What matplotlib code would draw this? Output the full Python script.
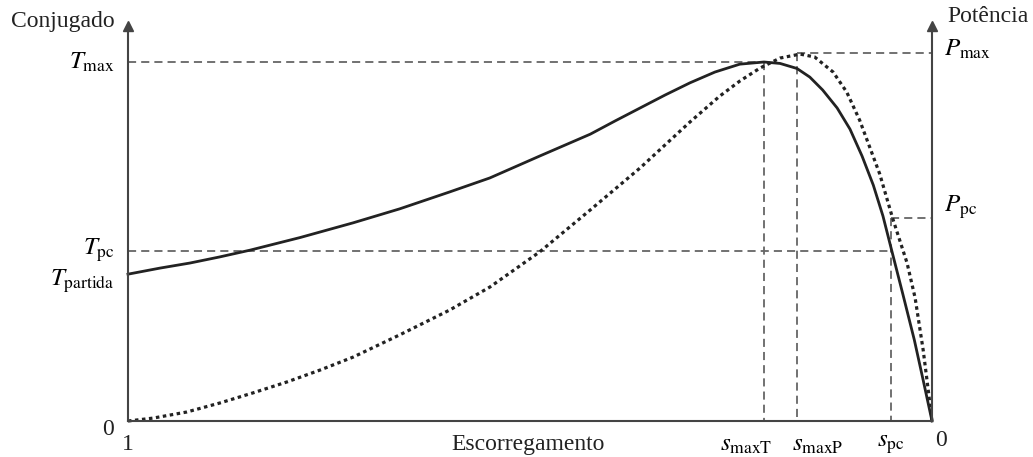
import matplotlib
matplotlib.use("Agg")
import matplotlib.pyplot as plt

# slip values (1 at left, 0 at right), values in pu of T_max
s_torque = [1.000, 0.960, 0.923, 0.886, 0.848, 0.786, 0.720, 0.662, 0.600, 0.550,
            0.488, 0.425, 0.394, 0.363, 0.332, 0.301, 0.270, 0.239, 0.209, 0.189,
            0.168, 0.152, 0.136, 0.118, 0.102, 0.087, 0.073, 0.061, 0.050, 0.036,
            0.022, 0.011, 0.000]
torque = [0.409, 0.426, 0.440, 0.457, 0.476, 0.511, 0.552, 0.591, 0.638, 0.677,
          0.738, 0.799, 0.836, 0.872, 0.908, 0.942, 0.972, 0.994, 1.000, 0.996,
          0.982, 0.958, 0.922, 0.872, 0.813, 0.738, 0.657, 0.571, 0.474, 0.351,
          0.226, 0.114, 0.000]

s_power = [1.000, 0.969, 0.927, 0.886, 0.845, 0.802, 0.761, 0.720, 0.662, 0.600,
           0.550, 0.488, 0.425, 0.363, 0.301, 0.264, 0.239, 0.214, 0.189, 0.164,
           0.146, 0.123, 0.106, 0.090, 0.065, 0.049, 0.031, 0.021, 0.011, 0.005,
           0.000]
power = [0.000, 0.008, 0.025, 0.050, 0.078, 0.109, 0.142, 0.178, 0.240, 0.309,
         0.373, 0.471, 0.588, 0.705, 0.833, 0.905, 0.947, 0.983, 1.011, 1.022,
         1.014, 0.972, 0.916, 0.838, 0.688, 0.565, 0.440, 0.343, 0.198, 0.092,
         0.000]

T_max, T_pc, T_partida = 1.000, 0.474, 0.409
P_max, P_pc = 1.025, 0.565
s_maxT, s_maxP, s_pc = 0.209, 0.168, 0.051
y_top = 1.10

plt.rcParams['mathtext.fontset'] = 'stix'
plt.rcParams['font.family'] = 'Liberation Serif'

fig = plt.figure(figsize=(10.33, 4.57), dpi=100)
ax = fig.add_axes([128 / 1033, 36 / 457, 804 / 1033, y_top * 359 / 457])
ax.set_xlim(1, 0)
ax.set_ylim(0, y_top)

axis_col = '#444444'
ink = '#222222'
guide = dict(color='#666666', lw=1.3, linestyle=(0, (4.5, 2.8)), clip_on=False)

# guide lines
ax.plot([1, s_maxT], [T_max, T_max], **guide)
ax.plot([s_maxT, s_maxT], [T_max, 0], **guide)
ax.plot([s_maxP, 0], [P_max, P_max], **guide)
ax.plot([s_maxP, s_maxP], [P_max, 0], **guide)
ax.plot([1, s_pc], [T_pc, T_pc], **guide)
ax.plot([s_pc, s_pc], [P_pc, 0], **guide)
ax.plot([s_pc, 0], [P_pc, P_pc], **guide)

# curves
ax.plot(s_power, power, color=ink, lw=2.3, linestyle=(0, (1.1, 1.1)), clip_on=False)
ax.plot(s_torque, torque, color=ink, lw=2.0, clip_on=False,
        solid_joinstyle='round')

# axes
ax.spines['top'].set_visible(False)
for side in ['left', 'right', 'bottom']:
    ax.spines[side].set_color(axis_col)
    ax.spines[side].set_linewidth(1.5)
ax.set_xticks([])
ax.set_yticks([])
ax.plot([1, 0], [y_top, y_top], '^', color=axis_col, ms=7, clip_on=False)

fs = 17
fm = 18
fig.text(115 / 1033, 1 - 22 / 457, 'Conjugado', ha='right', va='center',
         fontsize=fs, color=ink)
fig.text(947 / 1033, 1 - 16 / 457, 'Potência', ha='left', va='center',
         fontsize=fs, color=ink)
ax.text(1.017, T_max, r'$T_{\rm max}$', ha='right', va='center', fontsize=fm)
ax.text(1.017, T_pc, r'$T_{\rm pc}$', ha='right', va='center', fontsize=fm)
ax.text(1.017, T_partida - 0.02, r'$T_{\rm partida}$', ha='right', va='center', fontsize=fm)
ax.text(-0.015, P_max + 0.01, r'$P_{\rm max}$', ha='left', va='center', fontsize=fm)
ax.text(-0.015, P_pc + 0.03, r'$P_{\rm pc}$', ha='left', va='center', fontsize=fm)
ax.text(1.018, -0.025, '0', ha='right', va='center', fontsize=fs, color=ink)
ax.text(1.0, -0.035, '1', ha='center', va='top', fontsize=fs, color=ink)
ax.text(-0.011, -0.025, '0', ha='center', va='top', fontsize=fs, color=ink)
ax.text(0.502, -0.035, 'Escorregamento', ha='center', va='top', fontsize=fs, color=ink)
ax.text(0.199, -0.035, r'$s_{\rm maxT}$', ha='right', va='top', fontsize=fm)
ax.text(0.174, -0.035, r'$s_{\rm maxP}$', ha='left', va='top', fontsize=fm)
ax.text(s_pc, -0.035, r'$s_{\rm pc}$', ha='center', va='top', fontsize=fm)

fig.savefig('out.png', dpi=100)
